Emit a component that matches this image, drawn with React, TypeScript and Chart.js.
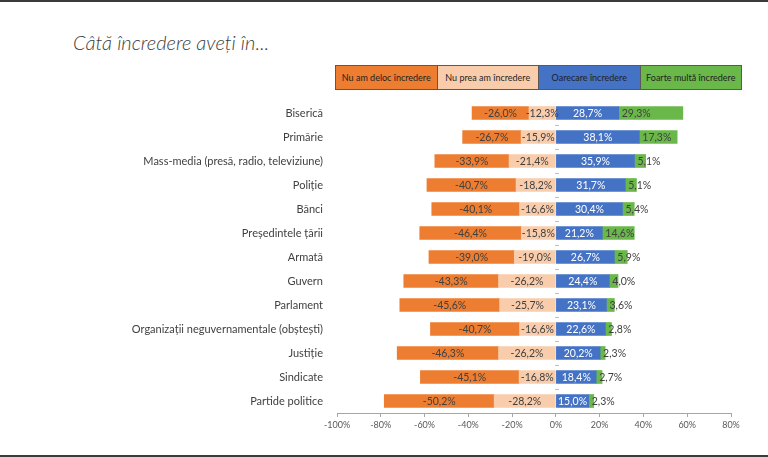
import React, { useEffect, useRef } from "react";
import { Chart, registerables } from "chart.js";

Chart.register(...registerables);

const categories = [
  "Biserică",
  "Primărie",
  "Mass-media (presă, radio, televiziune)",
  "Poliție",
  "Bănci",
  "Președintele țării",
  "Armată",
  "Guvern",
  "Parlament",
  "Organizații neguvernamentale (obștești)",
  "Justiție",
  "Sindicate",
  "Partide politice",
];

const nuDeloc = [-26.0, -26.7, -33.9, -40.7, -40.1, -46.4, -39.0, -43.3, -45.6, -40.7, -46.3, -45.1, -50.2];
const nuPrea = [-12.3, -15.9, -21.4, -18.2, -16.6, -15.8, -19.0, -26.2, -25.7, -16.6, -26.2, -16.8, -28.2];
const oarecare = [28.7, 38.1, 35.9, 31.7, 30.4, 21.2, 26.7, 24.4, 23.1, 22.6, 20.2, 18.4, 15.0];
const foarte = [29.3, 17.3, 5.1, 5.1, 5.4, 14.6, 5.9, 4.0, 3.6, 2.8, 2.3, 2.7, 2.3];

const legendLabels = [
  "Nu am deloc încredere",
  "Nu prea am încredere",
  "Oarecare încredere",
  "Foarte multă încredere",
];

const xMin = -100;
const xMax = 80;
const xStep = 20;

const COLORS = {
  orange: "#ED7D31",
  peach: "#F9CDAC",
  blue: "#4472C4",
  green: "#6AB84A",
};

const FONT = "Lato, 'Open Sans', sans-serif";

const fmt = (v: number) => v.toFixed(1).replace(".", ",") + "%";

const labelPlugin = {
  id: "segLabels",
  afterDatasetsDraw(chart: any) {
    const ctx = chart.ctx;
    ctx.save();
    ctx.font = `10.5px ${FONT}`;
    ctx.textBaseline = "middle";
    chart.data.datasets.forEach((ds: any, di: number) => {
      const meta = chart.getDatasetMeta(di);
      meta.data.forEach((el: any, i: number) => {
        const p = el.getProps(["x", "base", "y"], true);
        ctx.fillStyle = ds.labelColor;
        if (ds.labelAlign === "base") {
          ctx.textAlign = "left";
          ctx.fillText(fmt(ds.data[i]), Math.min(p.x, p.base) + 3, p.y + 0.5);
        } else {
          ctx.textAlign = "center";
          ctx.fillText(fmt(ds.data[i]), (p.x + p.base) / 2, p.y + 0.5);
        }
      });
    });
    ctx.restore();
  },
};

const zeroTicksPlugin = {
  id: "zeroTicks",
  afterDatasetsDraw(chart: any) {
    const ctx = chart.ctx;
    const xs = chart.scales.x;
    const ys = chart.scales.y;
    const x0 = Math.round(xs.getPixelForValue(0));
    ctx.save();
    ctx.strokeStyle = "#BFBFBF";
    ctx.lineWidth = 1;
    for (let i = 0; i < categories.length - 1; i++) {
      const y = Math.round((ys.getPixelForValue(i) + ys.getPixelForValue(i + 1)) / 2) + 0.5;
      ctx.beginPath();
      ctx.moveTo(x0 - 1, y);
      ctx.lineTo(x0 + 3, y);
      ctx.stroke();
    }
    ctx.restore();
  },
};

export default function App() {
  const ref = useRef<HTMLCanvasElement | null>(null);

  useEffect(() => {
    document.body.style.margin = "0";
    if (!ref.current) return;
    const chart = new Chart(ref.current, {
      type: "bar",
      data: {
        labels: categories,
        datasets: [
          { label: legendLabels[1], data: nuPrea, backgroundColor: COLORS.peach, labelColor: "#404040" } as any,
          { label: legendLabels[0], data: nuDeloc, backgroundColor: COLORS.orange, labelColor: "#404040" } as any,
          { label: legendLabels[2], data: oarecare, backgroundColor: COLORS.blue, labelColor: "#FFFFFF" } as any,
          { label: legendLabels[3], data: foarte, backgroundColor: COLORS.green, labelColor: "#404040", labelAlign: "base" } as any,
        ],
      },
      options: {
        indexAxis: "y",
        animation: false,
        responsive: false,
        devicePixelRatio: 1,
        layout: { padding: { top: 101, right: 37, left: 0, bottom: 0 } },
        datasets: { bar: { barThickness: 13, borderWidth: 0 } },
        plugins: { legend: { display: false }, tooltip: { enabled: false }, title: { display: false } },
        scales: {
          x: {
            stacked: true,
            min: xMin,
            max: xMax,
            ticks: {
              stepSize: xStep,
              callback: (v: any) => v + "%",
              color: "#595959",
              font: { family: FONT, size: 9 },
              padding: 3,
            },
            grid: { drawOnChartArea: false, drawTicks: true, tickLength: 4, color: "#A6A6A6" },
            border: { display: true, color: "#A6A6A6" },
            afterFit: (s: any) => {
              s.height = 44;
            },
          },
          y: {
            stacked: true,
            ticks: { color: "#404040", font: { family: FONT, size: 11 }, padding: 14, autoSkip: false },
            grid: { display: false, drawTicks: false },
            border: { display: false },
            afterFit: (s: any) => {
              s.width = 337;
            },
          },
        },
      } as any,
      plugins: [labelPlugin, zeroTicksPlugin],
    });
    return () => chart.destroy();
  }, []);

  const legendColors = [COLORS.orange, COLORS.peach, COLORS.blue, COLORS.green];

  return (
    <div style={{ position: "relative", width: 768, height: 457, background: "#fff", overflow: "hidden" }}>
      <div style={{ position: "absolute", left: 0, top: 0, width: 768, height: 2, background: "#3A3A3A" }} />
      <div style={{ position: "absolute", left: 0, top: 455, width: 768, height: 2, background: "#3A3A3A" }} />
      <div
        style={{
          position: "absolute",
          left: 73,
          top: 30,
          fontFamily: FONT,
          fontStyle: "italic",
          fontWeight: 300,
          fontSize: 20,
          color: "#404040",
          whiteSpace: "nowrap",
          lineHeight: "24px",
        }}
      >
        Câtă încredere aveți în...
      </div>
      <div
        style={{
          position: "absolute",
          left: 335,
          top: 65,
          width: 407,
          height: 25,
          display: "flex",
          border: "1px solid #595959",
          boxSizing: "border-box",
        }}
      >
        {legendLabels.map((t, i) => (
          <div
            key={i}
            style={{
              flex: 1,
              background: legendColors[i],
              borderLeft: i > 0 ? "1px solid #595959" : "none",
              display: "flex",
              alignItems: "center",
              justifyContent: "center",
              fontFamily: FONT,
              fontSize: 9,
              color: "#1F1F1F",
              whiteSpace: "nowrap",
            }}
          >
            {t}
          </div>
        ))}
      </div>
      <canvas ref={ref} width={768} height={457} style={{ position: "absolute", left: 0, top: 0 }} />
    </div>
  );
}
